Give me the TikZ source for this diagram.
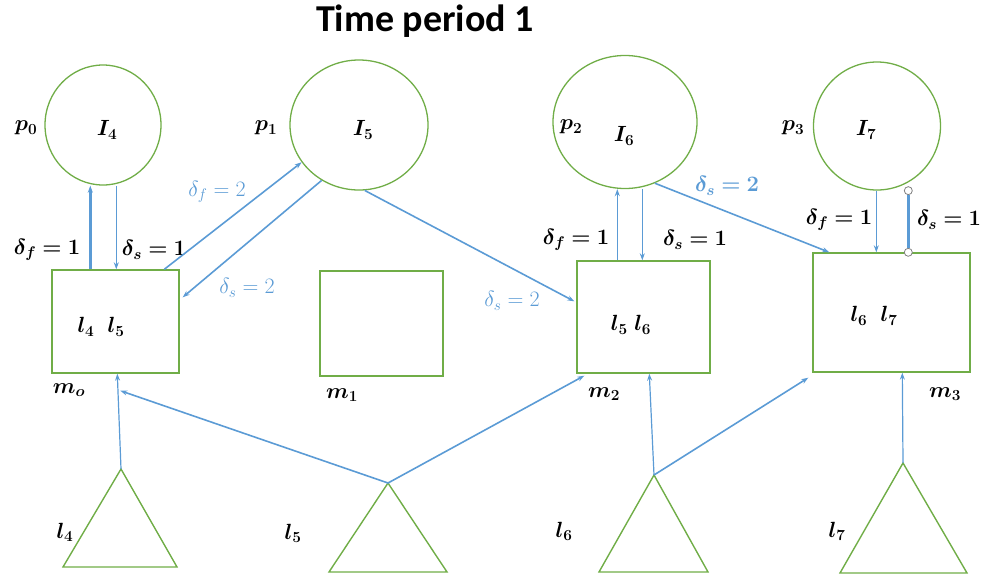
\RequirePackage{fix-cm}
\documentclass[tikz,border=0pt]{standalone}
\usepackage{amsmath,bm}
\usepackage{fontspec}
\newfontfamily\titlefont{Carlito}
\usetikzlibrary{shapes.geometric,arrows.meta,calc}
\definecolor{grn}{RGB}{112,173,71}
\definecolor{blu}{RGB}{91,155,213}
\begin{document}
\begin{tikzpicture}[x=1pt,y=-1pt,
  pool/.style={ellipse,draw=grn,line width=1.3pt,inner sep=0pt},
  mach/.style={rectangle,draw=grn,line width=1.4pt,inner sep=0pt},
  tri/.style={draw=grn,line width=1.4pt,line join=miter},
  arr/.style={draw=blu,line width=1.6pt,-{Stealth[length=7pt,width=5pt]}},
  thk/.style={line width=2.6pt},
  lab/.style={font=\fontsize{22}{26}\selectfont,inner sep=1pt},
  blab/.style={lab,text=blu},
  endc/.style={circle,draw=gray,fill=white,line width=0.8pt,inner sep=0pt,minimum size=8pt}]
\useasboundingbox (0,0) rectangle (987,579);
% title
\node[font=\titlefont\bfseries\fontsize{38}{42}\selectfont] (title) at (425,21) {Time period 1};
% pools
\node[pool,minimum width=116pt,minimum height=120pt] (I4) at (103,125) {};
\node[pool,minimum width=138pt,minimum height=130pt] (I5) at (359,125) {};
\node[pool,minimum width=144pt,minimum height=133pt] (I6) at (625,122) {};
\node[pool,minimum width=127pt,minimum height=128pt] (I7) at (877,126) {};
\node[lab] (tI4) at (107,130) {$\boldsymbol{I_4}$};
\node[lab] (tI5) at (363,130) {$\boldsymbol{I_5}$};
\node[lab] (tI6) at (624,136) {$\boldsymbol{I_6}$};
\node[lab] (tI7) at (866,130) {$\boldsymbol{I_7}$};
\node[lab] (p0) at (26,128) {$\boldsymbol{p_0}$};
\node[lab] (p1) at (266,128) {$\boldsymbol{p_1}$};
\node[lab] (p2) at (571,127) {$\boldsymbol{p_2}$};
\node[lab] (p3) at (793,128) {$\boldsymbol{p_3}$};
% machines
\node[mach,minimum width=127pt,minimum height=103pt] (m0) at (115.5,321.5) {};
\node[mach,minimum width=123pt,minimum height=105pt] (m1) at (381.5,323.5) {};
\node[mach,minimum width=133pt,minimum height=112pt] (m2) at (643.5,317) {};
\node[mach,minimum width=157pt,minimum height=119pt] (m3) at (891.5,312.5) {};
\node[lab] (tm0) at (101,327) {$\boldsymbol{l_4\ \ l_5}$};
\node[lab] (tm2) at (631,325) {$\boldsymbol{l_5\ l_6}$};
\node[lab] (tm3) at (874,316) {$\boldsymbol{l_6\ \ l_7}$};
\node[lab] (lm0) at (69,390) {$\boldsymbol{m_o}$};
\node[lab] (lm1) at (342,395) {$\boldsymbol{m_1}$};
\node[lab] (lm2) at (604,394) {$\boldsymbol{m_2}$};
\node[lab] (lm3) at (945,394) {$\boldsymbol{m_3}$};
% triangles
\coordinate (t1) at (121,469);
\coordinate (t2) at (388,483);
\coordinate (t3) at (654,475);
\coordinate (t4) at (903,463);
\draw[tri] (t1) -- (63,567) -- (177,567) -- cycle;
\draw[tri] (t2) -- (329,572) -- (447,572) -- cycle;
\draw[tri] (t3) -- (599,572) -- (708,572) -- cycle;
\draw[tri] (t4) -- (840,573) -- (967,573) -- cycle;
\node[lab] (l4) at (65,532) {$\boldsymbol{l_4}$};
\node[lab] (l5) at (293,533) {$\boldsymbol{l_5}$};
\node[lab] (l6) at (564,531) {$\boldsymbol{l_6}$};
\node[lab] (l7) at (837,531) {$\boldsymbol{l_7}$};
% m0 <-> I4
\coordinate (a1) at ($(m0.north west)+(39,0)$);
\coordinate (a2) at ($(m0.north west)+(65,0)$);
\draw[arr,thk] (a1) -- (a1 |- I4.south);
\draw[arr] (a2 |- I4.south) -- (a2);
\node[lab] (d1) at (47,250) {$\boldsymbol{\delta_f = 1}$};
\node[lab] (d2) at (154,250) {$\boldsymbol{\delta_s = 1}$};
% m0 <-> I5
\draw[arr] ($(m0.north west)+(113,0)$) -- (I5.213);
\draw[arr] (I5.236) -- ($(m0.north east)+(3,28)$);
\node[blab] (d3) at (217,192) {$\delta_f = 2$};
\node[blab] (d4) at (247,288) {$\delta_s = 2$};
% I5 -> m2
\draw[arr] (I5.275) -- ($(m2.north west)+(-2,41)$);
\node[blab] (d5) at (512,301) {$\delta_s = 2$};
% m2 <-> I6
\coordinate (a3) at ($(m2.north west)+(41,0)$);
\coordinate (a4) at ($(m2.north west)+(66,0)$);
\draw[arr] (a3) -- (a3 |- I6.south);
\draw[arr] (a4 |- I6.south) -- (a4);
\node[lab] (d6) at (576,240) {$\boldsymbol{\delta_f = 1}$};
\node[lab] (d7) at (695,240) {$\boldsymbol{\delta_s = 1}$};
% I6 -> m3
\draw[arr] (I6.296) -- ($(m3.north west)+(17,0)$);
\node[blab] (d8) at (727,186) {$\boldsymbol{\delta_s = 2}$};
% I7 <-> m3
\coordinate (a5) at ($(m3.north west)+(64,0)$);
\coordinate (a6) at ($(m3.north west)+(96,0)$);
\draw[arr,line width=1.1pt] (a5 |- I7.south) -- (a5);
\node[endc] (c1) at (a6 |- I7.south) {};
\node[endc] (c2) at (a6) {};
\draw[blu,thk] (c1) -- (c2);
\node[lab] (d9) at (839,220) {$\boldsymbol{\delta_f = 1}$};
\node[lab] (d10) at (949,220) {$\boldsymbol{\delta_s = 1}$};
% triangles -> machines
\draw[arr,line width=1.2pt] (t1) -- ($(m0.south west)+(66,0)$);
\draw[arr] (t2) -- ($(m0.south west)+(69,17)$);
\draw[arr] (t2) -- ($(m2.south west)+(8,2)$);
\draw[arr,line width=1.2pt] (t3) -- ($(m2.south west)+(73,0)$);
\draw[arr] (t3) -- ($(m3.south west)+(-4,5)$);
\draw[arr,line width=1.2pt] (t4) -- ($(m3.south west)+(90,0)$);
\end{tikzpicture}
\end{document}
